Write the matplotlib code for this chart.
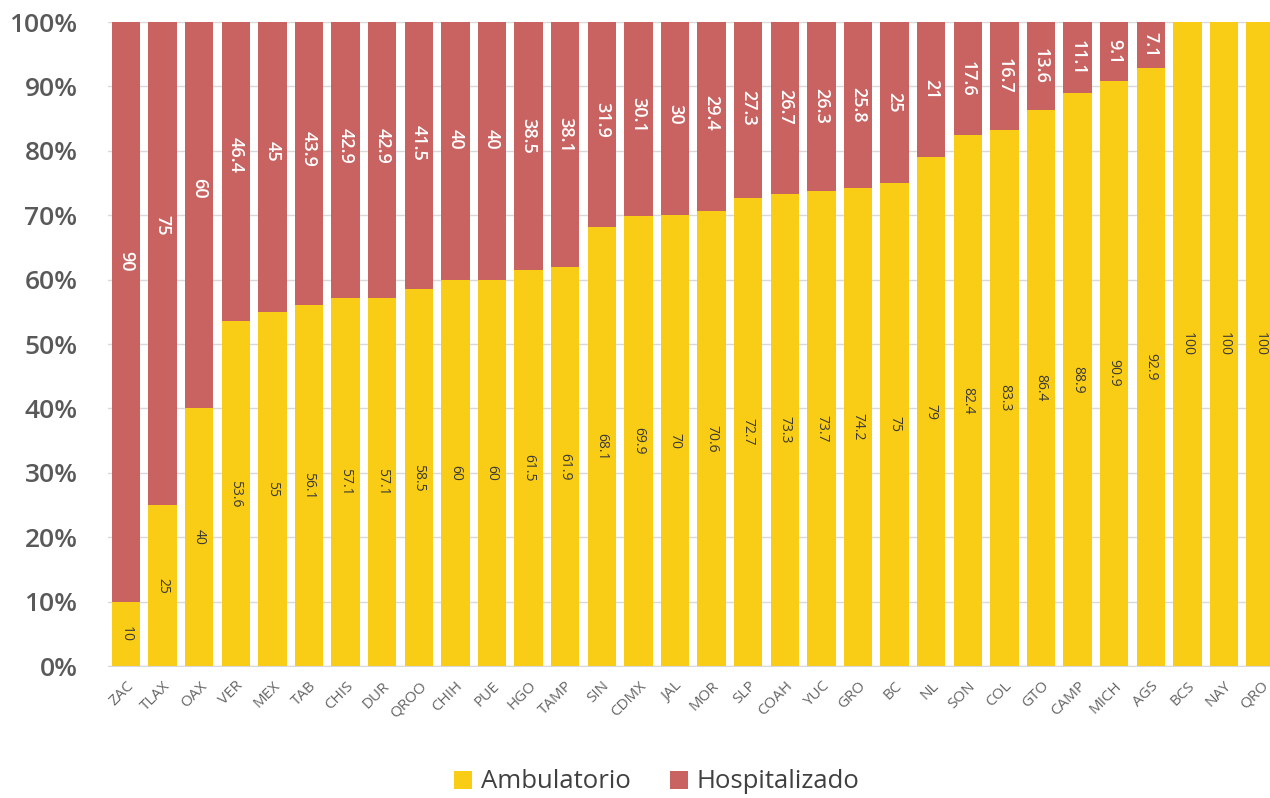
import matplotlib
matplotlib.use("Agg")
import matplotlib.pyplot as plt
from matplotlib.patches import Patch
import numpy as np

states = ["ZAC", "TLAX", "OAX", "VER", "MEX", "TAB", "CHIS", "DUR", "QROO", "CHIH",
          "PUE", "HGO", "TAMP", "SIN", "CDMX", "JAL", "MOR", "SLP", "COAH", "YUC",
          "GRO", "BC", "NL", "SON", "COL", "GTO", "CAMP", "MICH", "AGS", "BCS",
          "NAY", "QRO"]
ambulatorio = [10, 25, 40, 53.6, 55, 56.1, 57.1, 57.1, 58.5, 60,
               60, 61.5, 61.9, 68.1, 69.9, 70, 70.6, 72.7, 73.3, 73.7,
               74.2, 75, 79, 82.4, 83.3, 86.4, 88.9, 90.9, 92.9, 100,
               100, 100]
hospitalizado = [90, 75, 60, 46.4, 45, 43.9, 42.9, 42.9, 41.5, 40,
                 40, 38.5, 38.1, 31.9, 30.1, 30, 29.4, 27.3, 26.7, 26.3,
                 25.8, 25, 21, 17.6, 16.7, 13.6, 11.1, 9.1, 7.1, 0,
                 0, 0]
yticks = [0, 10, 20, 30, 40, 50, 60, 70, 80, 90, 100]
series_names = ["Ambulatorio", "Hospitalizado"]

YELLOW = "#F9CC15"
RED = "#C86361"
FONT = ["Open Sans", "DejaVu Sans"]
plt.rcParams["font.family"] = FONT

fig = plt.figure(figsize=(12.7, 7.98), dpi=100)
ax = fig.add_axes([108 / 1270, 1 - 666 / 798, 1 - 108 / 1270, (666 - 22) / 798])

x = np.arange(len(states))
amb = np.array(ambulatorio)
hos = np.array(hospitalizado)
w = 0.78
ax.bar(x, amb, width=w, color=YELLOW, zorder=2)
ax.bar(x, hos, width=w, bottom=amb, color=RED, zorder=2)

for i in range(len(states)):
    a, h = amb[i], hos[i]
    ax.text(x[i], a / 2, f"{a:g}", rotation=270, ha="center", va="center",
            fontsize=10, color="#3a3a3a", zorder=3)
    if h > 0:
        ypos = a + h / 2 + 0.12 * max(0.0, h - 25)
        ax.text(x[i], ypos, f"{h:g}", rotation=270, ha="center", va="center",
                fontsize=13, color="white", fontweight="semibold", zorder=3)

spacing = 36.6
ax.set_xlim(-(126 - 108) / spacing, (1270 - 126) / spacing)
ax.set_ylim(0, 100)
ax.set_yticks(yticks)
ax.set_yticklabels([f"{t}%" for t in yticks], fontsize=19, color="#595959",
                   fontweight="semibold")
ax.set_xticks(x)
ax.set_xticklabels(states, rotation=45, ha="right", rotation_mode="anchor",
                   fontsize=11, color="#666666")
ax.tick_params(axis="both", length=0)
ax.tick_params(axis="y", pad=22)
ax.tick_params(axis="x", pad=9)
ax.grid(axis="y", color="#D9D9D9", linewidth=1, zorder=0)
for s in ["top", "right", "left"]:
    ax.spines[s].set_visible(False)
ax.spines["bottom"].set_color("#D9D9D9")

handles = [Patch(facecolor=YELLOW, edgecolor="none"), Patch(facecolor=RED, edgecolor="none")]
fig.legend(handles, series_names, loc="center", bbox_to_anchor=(657 / 1270, 1 - 782 / 798),
           ncol=2, frameon=False, fontsize=18.5, handlelength=0.7, handleheight=0.7,
           handletextpad=0.35, columnspacing=1.5, labelcolor="#404040")

fig.savefig("out.png", dpi=100)
